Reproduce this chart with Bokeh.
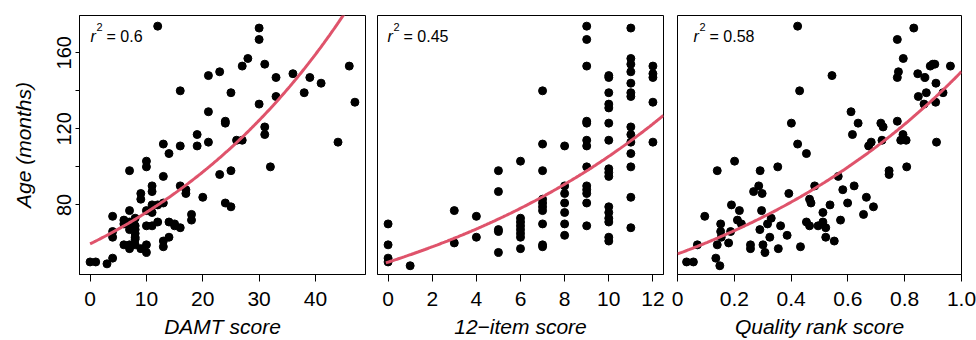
import numpy as np
from bokeh.plotting import figure
from bokeh.layouts import row
from bokeh.models import FixedTicker, Label, CustomJSTickFormatter
from bokeh.embed import file_html
from bokeh.resources import INLINE

# ---------------- data ----------------
damt_score = [12, 30, 30, 28, 27, 23, 21, 31, 36, 33, 39, 41, 46, 38, 33, 25, 16, 21, 30, 47,
              24, 24, 31, 31, 19, 44, 26, 27, 21, 13, 16, 19, 14, 10, 10, 7, 23, 25, 32, 13,
              16, 11, 11, 17, 17, 9, 9, 20, 24, 25, 11, 12, 13, 10, 7, 11, 18, 18, 4, 6,
              6, 8, 7, 12, 14, 10, 11, 15, 15, 16, 7, 8, 4, 8, 4, 8, 14, 13, 6, 7,
              8, 10, 13, 7, 9, 10, 4, 0, 1, 3, 8, 8]
damt_age = [174, 173, 167, 157, 153, 150, 148, 154, 149, 147, 147, 144, 153, 139, 137, 139, 140, 129, 133, 134,
            124, 123, 121, 117, 117, 113, 114, 114, 113, 112, 111, 111, 107, 103, 100, 98, 96, 98, 100, 95,
            90, 90, 87, 88, 86, 86, 83, 84, 81, 79, 80, 80, 81, 77, 77, 76, 75, 72, 74, 72,
            70, 73, 71, 71, 71, 69, 69, 70, 69, 68, 67, 67, 66, 65, 63, 63, 63, 61, 59, 59,
            59, 59, 58, 57, 57, 55, 52, 50, 50, 49, 62, 69]

item_score = [0, 0, 0, 0, 1, 3, 3, 4, 4,
              5, 5, 5, 5, 5,
              6, 6, 6, 6, 6, 6, 6, 6,
              7, 7, 7, 7, 7, 7, 7, 7, 7, 7,
              8, 8, 8, 8, 8, 8, 8,
              9, 9, 9, 9, 9, 9, 9, 9, 9, 9, 9, 9, 9,
              10, 10, 10, 10, 10, 10, 10, 10, 10, 10, 10, 10, 10, 10, 10, 10,
              11, 11, 11, 11, 11, 11, 11, 11, 11, 11, 11, 11, 11, 11,
              12, 12, 12, 12, 12]
item_age = [70, 59, 52, 50, 48, 77, 60, 74, 63,
            98, 87, 67, 66, 55,
            103, 73, 71, 69, 67, 65, 63, 57,
            140, 112, 98, 83, 81, 79, 77, 70, 59, 58,
            111, 90, 86, 81, 76, 70, 64,
            174, 167, 153, 124, 123, 114, 111, 100, 90, 88, 86, 81, 69,
            148, 147, 139, 133, 131, 123, 114, 99, 97, 95, 79, 76, 73, 71, 63, 61,
            173, 157, 154, 150, 144, 139, 137, 121, 117, 113, 107, 100, 84, 68,
            153, 149, 147, 134, 113]

rank_score = [0.032, 0.056, 0.070, 0.096, 0.135, 0.149, 0.140, 0.140, 0.152, 0.152,
              0.154, 0.180, 0.190, 0.187, 0.201, 0.211, 0.218, 0.225, 0.257, 0.257,
              0.268, 0.286, 0.291, 0.298, 0.296, 0.290, 0.301, 0.308, 0.317, 0.325,
              0.330, 0.353, 0.355, 0.363, 0.386, 0.392, 0.401, 0.423, 0.423, 0.430,
              0.433, 0.454, 0.454, 0.465, 0.470, 0.465, 0.483, 0.495, 0.512, 0.512,
              0.522, 0.522, 0.537, 0.544, 0.552, 0.566, 0.574, 0.582, 0.599, 0.611,
              0.616, 0.622, 0.636, 0.655, 0.665, 0.673, 0.682, 0.690, 0.716, 0.724,
              0.720, 0.745, 0.745, 0.774, 0.774, 0.778, 0.774, 0.795, 0.786, 0.794,
              0.805, 0.807, 0.832, 0.846, 0.848, 0.871, 0.868, 0.876, 0.890, 0.899,
              0.906, 0.910, 0.909, 0.912, 0.935, 0.961]
rank_age = [50, 50, 59, 74, 52, 48, 59, 98, 70, 66,
            63, 60, 80, 66, 103, 72, 77, 70, 59, 57,
            87, 90, 98, 86, 77, 67, 59, 55, 70, 63,
            73, 100, 57, 69, 64, 86, 123, 174, 112, 140,
            58, 107, 71, 83, 81, 69, 90, 69, 76, 71,
            68, 63, 80, 148, 61, 95, 72, 88, 81, 129,
            117, 90, 123, 75, 84, 111, 113, 79, 123, 121,
            114, 98, 96, 124, 147, 150, 167, 157, 114, 117,
            114, 100, 173, 149, 137, 147, 133, 139, 153, 154,
            154, 144, 134, 113, 139, 153]

# exponential fits: age = a * exp(b * score)
fit_a = [59.5, 49.9, 54.2]
fit_b = [0.0246, 0.0749, 1.0186]
r2_text = ["0.6", "0.45", "0.58"]
x_titles = ["DAMT score", "12\u2212item score", "Quality rank score"]
x_ticks = [[0, 10, 20, 30, 40], [0, 2, 4, 6, 8, 10, 12], [0, 0.2, 0.4, 0.6, 0.8, 1.0]]
y_ticks = [80, 100, 120, 140, 160]

FONT = "Liberation Sans"
RED = "#DF536B"
YR = (43.4, 179.6)
FH = 261

def make_panel(xs, ys, xr, fw, width, left, right, k, curve_x, r_off):
    p = figure(width=width, height=340, x_range=xr, y_range=YR,
               output_backend="svg", toolbar_location=None,
               min_border_left=left, min_border_right=right,
               min_border_top=15, min_border_bottom=64)
    p.xgrid.visible = False
    p.ygrid.visible = False
    p.outline_line_color = "black"
    p.outline_line_width = 1
    p.outline_line_alpha = 1
    p.background_fill_color = "white"
    p.border_fill_color = "white"

    cx = np.linspace(curve_x[0], curve_x[1], 200)
    cy = fit_a[k] * np.exp(fit_b[k] * cx)
    p.scatter(xs, ys, size=8, color="black")
    p.line(cx, cy, line_color=RED, line_width=3)

    ax = p.xaxis[0]
    ax.ticker = FixedTicker(ticks=x_ticks[k])
    ax.major_tick_out = 7
    ax.major_tick_in = 0
    ax.minor_tick_line_color = None
    ax.axis_line_color = "black"
    ax.major_tick_line_color = "black"
    ax.major_label_text_font = FONT
    ax.major_label_text_font_size = "21px"
    ax.major_label_text_color = "black"
    ax.major_label_standoff = 10
    ax.axis_label = x_titles[k]
    ax.axis_label_text_font = FONT
    ax.axis_label_text_font_size = "21px"
    ax.axis_label_text_font_style = "italic"
    ax.axis_label_text_color = "black"
    ax.axis_label_standoff = 6
    if k == 2:
        ax.formatter = CustomJSTickFormatter(code="return tick == 0 ? '0' : tick.toFixed(1);")

    if k == 0:
        ay = p.yaxis[0]
        ay.ticker = FixedTicker(ticks=y_ticks)
        ay.major_label_overrides = {100: "", 140: ""}
        ay.major_tick_out = 4
        ay.major_tick_in = 0
        ay.minor_tick_line_color = None
        ay.axis_line_color = "black"
        ay.major_tick_line_color = "black"
        ay.major_label_orientation = "vertical"
        ay.major_label_text_font = FONT
        ay.major_label_text_font_size = "20px"
        ay.major_label_text_color = "black"
        ay.major_label_standoff = 4
        ay.axis_label = "Age (months)"
        ay.axis_label_text_font = FONT
        ay.axis_label_text_font_size = "21px"
        ay.axis_label_text_font_style = "italic"
        ay.axis_label_text_color = "black"
        ay.axis_label_standoff = 20
    else:
        p.yaxis.visible = False

    # r^2 annotation, positioned by pixel offsets inside the frame
    def fx(px):
        return xr[0] + px * (xr[1] - xr[0]) / fw
    def fy(py):
        return YR[1] - py * (YR[1] - YR[0]) / FH
    p.add_layout(Label(x=fx(r_off), y=fy(21), text="r", text_font=FONT, text_font_size="16px",
                       text_font_style="italic", text_color="black", text_baseline="alphabetic"))
    p.add_layout(Label(x=fx(r_off + 6), y=fy(12), text="2", text_font=FONT, text_font_size="11px",
                       text_color="black", text_baseline="alphabetic"))
    p.add_layout(Label(x=fx(r_off + 16), y=fy(21), text="= " + r2_text[k], text_font=FONT,
                       text_font_size="16px", text_color="black", text_baseline="alphabetic"))
    return p

p1 = make_panel(damt_score, damt_age, (-1.88, 48.88), 286, 371, 79, 6, 0, (0, 48), 11)
p2 = make_panel(item_score, item_age, (-0.48, 12.48), 286, 299, 6, 7, 1, (-0.1, 12.48), 10)
p3 = make_panel(rank_score, rank_age, (0.0, 1.0), 284, 306, 7, 15, 2, (0.0, 1.0), 16)

layout = row(p1, p2, p3)
open("out.html", "w").write(file_html(layout, INLINE))
